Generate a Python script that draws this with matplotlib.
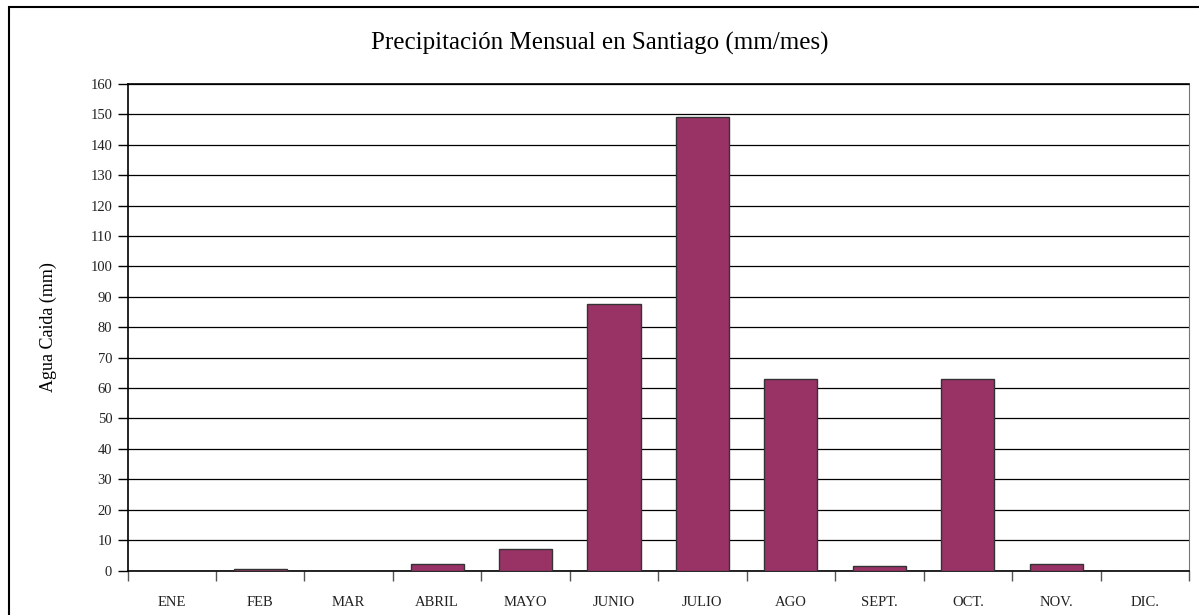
import numpy as np
import matplotlib
matplotlib.use('Agg')
import matplotlib.pyplot as plt
from matplotlib.patches import Rectangle

# Monthly rainfall, Santiago (mm)
months = ['ENE', 'FEB', 'MAR', 'ABRIL', 'MAYO', 'JUNIO', 'JULIO',
          'AGO', 'SEPT.', 'OCT.', 'NOV.', 'DIC.']
rain_mm = [0.0, 0.5, 0.0, 2.0, 7.0, 87.5, 149.0, 63.0, 1.5, 63.0, 2.0, 0.0]
y_ticks = list(range(0, 161, 10))

plt.rcParams['font.family'] = ['Liberation Serif', 'DejaVu Serif']

fig = plt.figure(figsize=(11.99, 6.15), dpi=100)
ax = fig.add_axes([127.5 / 1199, 44.5 / 615, (1189 - 127.5) / 1199, (570.5 - 84) / 615])

x = np.arange(len(months))
ax.bar(x, rain_mm, width=0.6, color='#993366', edgecolor='#333333',
       linewidth=1.0, zorder=3)

ax.set_xlim(-0.5, len(months) - 0.5)
ax.set_ylim(0, 160)
ax.set_yticks(y_ticks)
ax.set_yticklabels([str(v) for v in y_ticks], fontsize=10.5, color='#222222')
ax.yaxis.grid(True, color='black', linewidth=0.9, zorder=0)

# category ticks sit between bars, labels sit under the bars
ax.set_xticks(np.arange(len(months) + 1) - 0.5)
ax.set_xticklabels([])
ax.set_xticks(x, minor=True)
ax.set_xticklabels(months, minor=True, fontsize=10.5, color='#222222')
ax.tick_params(axis='x', which='major', direction='out', length=7, width=1, color='#555555')
ax.tick_params(axis='x', which='minor', length=0, pad=18)
ax.tick_params(axis='y', direction='out', length=7, width=1, pad=4)

for side in ['left', 'bottom', 'top']:
    ax.spines[side].set_color('black')
    ax.spines[side].set_linewidth(1.2)
ax.spines['right'].set_color('#777777')

ax.set_ylabel('Agua Caida (mm)', fontsize=13, labelpad=24)
fig.text(0.5, 1 - 43 / 615, 'Precipitación Mensual en Santiago (mm/mes)',
         ha='center', va='center', fontsize=18)

# chart area border (clipped at right/bottom like the source)
fig.patches.append(Rectangle((9 / 1199, -0.05), 1.1, 1 - 7 / 615 + 0.05,
                             transform=fig.transFigure, fill=False,
                             edgecolor='black', linewidth=1.5))

fig.savefig('out.png', dpi=100)
